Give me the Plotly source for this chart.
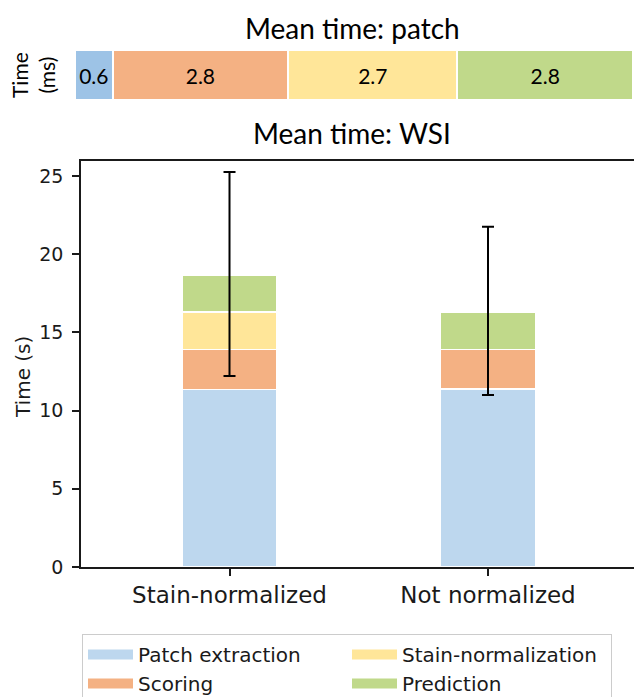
import plotly.graph_objects as go

# ---- data ----
categories = ["Stain-normalized", "Not normalized"]
patch_extraction = [11.36, 11.38]
scoring = [2.56, 2.54]
stain_normalization = [2.40, 0]
prediction = [2.35, 2.40]
err_upper = [25.26, 21.76]
err_lower = [12.21, 11.00]

patch_labels = ["Patch extraction", "Scoring", "Stain-normalization", "Prediction"]
patch_times_ms = [0.6, 2.8, 2.7, 2.8]

colors_wsi = ["#bdd7ee", "#f4b183", "#ffe699", "#c0d98a"]
colors_patch = ["#9dc3e6", "#f4b183", "#ffe699", "#c0d98a"]

W, H = 634, 697
DJ = "DejaVu Sans"
CAL = "Lato"
INK = "#1a1a1a"

fig = go.Figure()

# ---- WSI stacked bars ----
xs = [0, 1]
series = [patch_extraction, scoring, stain_normalization, prediction]
for name, vals, col in zip(patch_labels, series, colors_wsi):
    fig.add_trace(go.Bar(
        x=xs, y=[v if v else None for v in vals], name=name,
        marker=dict(color=col, line=dict(color="white", width=1.5)),
        width=0.367, showlegend=False, xaxis="x", yaxis="y",
    ))

totals = [sum(v[i] for v in series) for i in range(len(categories))]
fig.add_trace(go.Scatter(
    x=xs, y=totals, mode="markers", marker=dict(opacity=0, size=1),
    error_y=dict(type="data", symmetric=False,
                 array=[u - t for u, t in zip(err_upper, totals)],
                 arrayminus=[t - l for t, l in zip(totals, err_lower)],
                 color="black", thickness=2, width=6),
    showlegend=False, hoverinfo="skip", xaxis="x", yaxis="y",
))

# legend entries (wide swatches), row-wise order of the reference legend
legend_order = [0, 2, 1, 3]
for i in legend_order:
    fig.add_trace(go.Scatter(
        x=[None], y=[None], mode="lines", name=patch_labels[i],
        line=dict(color=colors_wsi[i], width=13), xaxis="x", yaxis="y",
    ))

# ---- patch horizontal stacked bar ----
for name, v, col in zip(patch_labels, patch_times_ms, colors_patch):
    fig.add_trace(go.Bar(
        x=[v], y=[0], orientation="h", name=name,
        marker=dict(color=col, line=dict(color="white", width=2)),
        width=1, text=[f"{v}"], textposition="inside", insidetextanchor="middle",
        textfont=dict(family=CAL, size=21, color="black"), constraintext="none",
        showlegend=False, xaxis="x2", yaxis="y2",
    ))

fig.update_layout(
    width=W, height=H, barmode="stack",
    margin=dict(l=0, r=0, t=0, b=0, autoexpand=False),
    paper_bgcolor="white", plot_bgcolor="white",
    xaxis=dict(domain=[81 / W, 1], range=[-0.5745, 1.5648], automargin=False,
               tickvals=xs, ticktext=categories, ticks="outside", ticklen=7,
               tickwidth=1.5, tickcolor=INK, showline=True, linecolor=INK,
               linewidth=1.5, mirror=True, showgrid=False, zeroline=False,
               tickfont=dict(family=DJ, size=23, color=INK)),
    yaxis=dict(domain=[130 / H, 536 / H], range=[0, 25.96], automargin=False,
               tickvals=[0, 5, 10, 15, 20, 25], ticks="outside", ticklen=7,
               tickwidth=1.5, tickcolor=INK, showline=True, linecolor=INK,
               linewidth=1.5, showgrid=False, zeroline=False, ticklabelstandoff=5,
               tickfont=dict(family=DJ, size=19, color=INK)),
    xaxis2=dict(domain=[75 / W, 633 / W], range=[0, sum(patch_times_ms)],
                visible=False, anchor="y2"),
    yaxis2=dict(domain=[597 / H, 647 / H], range=[-0.5, 0.5],
                visible=False, anchor="x2"),
    legend=dict(orientation="h", x=82 / W, y=63 / H, xanchor="left", yanchor="top",
                traceorder="normal", itemwidth=45,
                entrywidth=204, entrywidthmode="pixels",
                font=dict(family=DJ, size=20, color=INK),
                bordercolor="#cccccc", borderwidth=1, bgcolor="white"),
    annotations=[
        dict(text="Mean time: patch", x=352 / W, y=(697 - 28) / H, xref="paper", yref="paper",
             showarrow=False, font=dict(family=CAL, size=28, color="black"),
             xanchor="center", yanchor="middle"),
        dict(text="Mean time: WSI", x=352 / W, y=(697 - 133) / H, xref="paper", yref="paper",
             showarrow=False, font=dict(family=CAL, size=28, color="black"),
             xanchor="center", yanchor="middle"),
        dict(text="Time<br>(ms)", x=33 / W, y=(697 - 75) / H, xref="paper", yref="paper",
             showarrow=False, textangle=-90, font=dict(family=CAL, size=21, color="black"),
             xanchor="center", yanchor="middle"),
        dict(text="Time (s)", x=23 / W, y=(697 - 377) / H, xref="paper", yref="paper",
             showarrow=False, textangle=-90, font=dict(family=DJ, size=20, color=INK),
             xanchor="center", yanchor="middle"),
    ],
)

fig.write_html("out.html", config={"displayModeBar": False},
               post_script="document.body.style.margin='0';")
